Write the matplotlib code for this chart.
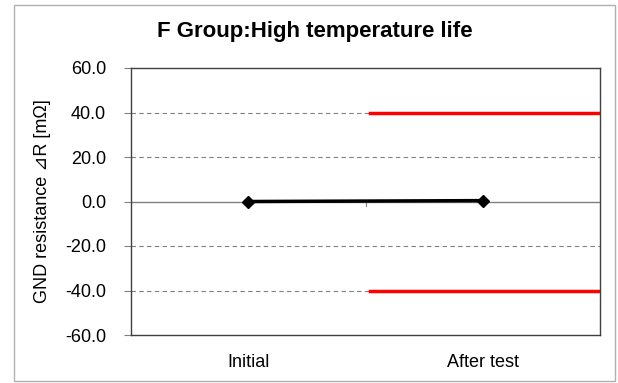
import matplotlib
matplotlib.use("Agg")
import matplotlib.pyplot as plt
from matplotlib.patches import Rectangle

categories = ["Initial", "After test"]
values = [0.0, 0.4]
upper_limit = [40.0, 40.0]
lower_limit = [-40.0, -40.0]
limit_x = [0.52, 1.5]
yticks = [-60, -40, -20, 0, 20, 40, 60]

plt.rcParams['font.family'] = ["Liberation Sans", "DejaVu Sans"]

fig = plt.figure(figsize=(6.18, 3.83), dpi=100)
ax = fig.add_axes([131/618, 1-335/383, (600-131)/618, (335-68)/383])

# outer border
fig.patches.append(Rectangle((14/618, 2/383), (615-14)/618, (381-5)/383, transform=fig.transFigure,
                             fill=False, edgecolor="#b0b0b0", lw=1.0))

ax.set_xlim(-0.5, 1.5)
ax.set_ylim(-60, 60)
for y in [-40, -20, 20, 40]:
    ax.axhline(y, color="#808080", lw=0.8, ls=(0, (4, 3)), zorder=1)
ax.axhline(0, color="#808080", lw=1.0, zorder=1)
ax.plot([0.5, 0.5], [0, -2.2], color="#808080", lw=0.8, zorder=1)

ax.plot(limit_x, upper_limit, color="#ff0000", lw=2.5, zorder=3)
ax.plot(limit_x, lower_limit, color="#ff0000", lw=2.5, zorder=3)
ax.plot([0, 1], values, color="black", lw=2.5, marker="D", ms=6, zorder=4)

ax.set_yticks(yticks)
ax.set_yticklabels([f"{v:.1f}" for v in yticks], fontsize=13)
ax.tick_params(axis="y", length=5, color="#808080", pad=13)
ax.set_xticks([0, 1])
ax.set_xticklabels(categories, fontsize=13)
ax.tick_params(axis="x", length=0, pad=14)
for s in ax.spines.values():
    s.set_color("#404040")
    s.set_linewidth(1.0)
ax.set_ylabel("GND resistance \u22bfR [m\u03a9]", fontsize=13)
ax.yaxis.set_label_coords((51-131)/469, 0.5)
fig.text(315/618, 1-32/383, "F Group:High temperature life", ha="center", va="center",
         fontsize=16, fontweight="bold")

fig.savefig("out.png", dpi=100)
